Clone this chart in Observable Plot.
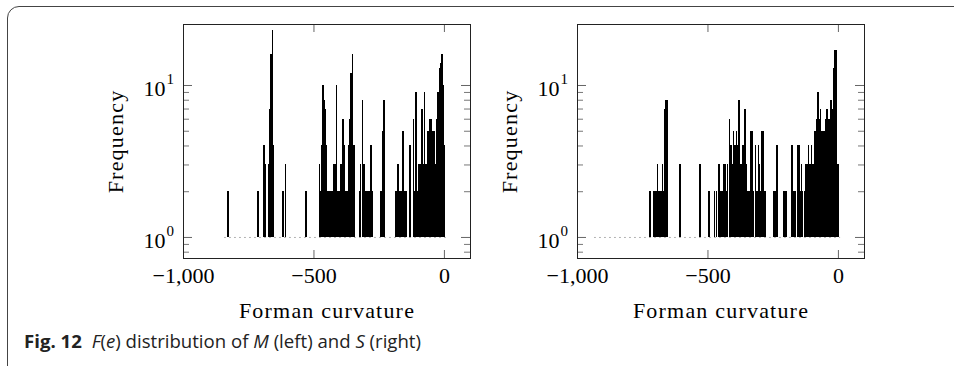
<!DOCTYPE html>
<html>
<head>
<meta charset="utf-8">
<script src="https://cdn.jsdelivr.net/npm/d3@7"></script>
<script src="https://cdn.jsdelivr.net/npm/@observablehq/plot@0.6"></script>
<style>
  html, body { margin: 0; padding: 0; background: #fff; }
  body { width: 954px; height: 366px; overflow: hidden; position: relative; }
  #left, #right { position: absolute; top: 0; }
  #left { left: 0; }
  #right { left: 477px; }
  #box { position: absolute; left: 7px; top: 6px; width: 1000px; height: 420px;
         border: 1.2px solid #444; border-radius: 12px; pointer-events: none; }
  #caption { position: absolute; left: 24px; top: 332px; font-family: "Open Sans", sans-serif;
             font-size: 18.6px; line-height: 18px; color: #222; white-space: nowrap; }
  #caption b { font-weight: 700; margin-right: 5px; }
</style>
</head>
<body>
<div id="left"></div>
<div id="right"></div>
<div id="box"></div>
<div id="caption"><b>Fig. 12</b> <i>F</i>(<i>e</i>) distribution of <i>M</i> (left) and <i>S</i> (right)</div>
<script>
// ---- data: histogram bins (Forman curvature value) and frequencies ----
const leftBins = [-828,-714,-710,-690,-686,-672,-668,-662,-657,-653,-617,-607,-528,
  -477,-473,-469,-464,-461,-458,-454,-452,-449,-442,-436,-431,-426,-421,-416,-411,-406,-401,-396,-390,-387,-383,-378,-373,-368,-363,-360,-356,-350,-345,
  -324,-319,-312,-306,-302,-297,-291,-286,-282,-279,-274,
  -242,-238,-234,-229,
  -184,-179,-176,-169,-164,-156,-151,-146,-130,
  -116,-112,-108,-103,-98,-93,-88,-83,-79,-75,-70,-65,-60,-55,-50,-46,-42,-37,-32,-27,-22,-16,-11,-8,-3,3];
const leftCounts = [2,2,2,4,3,3,7,16,23,4,2,3,2,
  3,2,4,10,9,8,7,4,2,2,2,2,2,3,3,10,2,2,3,3,6,4,2,2,2,4,6,12,16,4,
  2,3,8,3,2,2,2,2,3,4,2,
  2,2,5,8,
  2,2,3,2,2,5,2,2,4,
  6,2,9,2,3,3,3,7,3,9,3,3,5,6,6,2,5,5,3,6,9,13,14,16,10,4];

const rightBins = [-720,-705,-698,-692,-686,-679,-673,-669,-664,-658,-654,-606,-529,-495,-473,-466,-455,
  -450,-445,-442,-438,-432,-427,-423,-415,-410,-405,-400,-394,-389,-384,-380,-377,-371,-366,-361,-356,-351,-346,-341,-333,-328,-323,-316,-310,-305,-300,-295,-290,-285,-280,
  -244,-239,-234,
  -206,-198,-177,-171,-164,-155,-150,-145,-140,-135,-127,-122,-117,-112,-107,-102,-97,-92,-87,-81,-76,-71,-66,-61,-56,-51,-46,-41,-35,-31,-26,-20,-15,-11,-8,-5,0];
const rightCounts = [2,2,2,3,2,2,3,2,7,8,8,3,3,2,2,2,3,
  2,2,2,3,3,2,3,6,4,3,5,4,5,4,8,7,3,4,4,7,3,2,2,5,5,2,4,2,4,3,2,5,5,2,
  2,2,4,
  2,2,4,2,2,4,4,2,3,2,2,3,3,4,3,4,3,3,5,6,9,6,7,5,5,5,6,7,6,6,8,7,13,17,17,12,3];

// span of single-count bins (drawn as a faint baseline at frequency 1)
const leftOnes = [-843, 5];
const rightOnes = [-935, 5];

const xTicks = [-1000, -500, 0];
const xTickLabels = ["\u22121,000", "\u2212500", "0"];
const yMajor = [1, 10];
const yTickBase = ["10", "10"];
const yTickExp = ["0", "1"];
const yMinor = [0.8, 0.9, 2, 3, 4, 5, 6, 7, 8, 9];
const xLabel = "Forman curvature";
const yLabel = "Frequency";

// ---- drawing ----
const W = 477, H = 330, MT = 24, MB = 72, PW = 287, PH = H - MT - MB;
const BW = 6; // bar width in curvature units
const serif = "Liberation Serif, Times New Roman, serif";

function panel(bins, counts, ones, ml) {
  const data = bins.map((x, i) => ({x, n: counts[i]}));
  const base = ones.map(x => ({x, y: 1}));
  const svg = Plot.plot({
    width: W, height: H,
    marginLeft: ml, marginRight: W - ml - PW, marginTop: MT, marginBottom: MB,
    x: {domain: [-1000, 100], axis: null},
    y: {type: "log", domain: [0.727, 25.2], axis: null},
    style: {background: "transparent", fontFamily: serif, color: "#000", overflow: "visible"},
    marks: [
      Plot.line(base, {x: "x", y: "y", stroke: "#aaa", strokeWidth: 1, strokeDasharray: "1,4"}),
      Plot.rect(data, {x1: d => d.x - BW / 2, x2: d => d.x + BW / 2, y1: () => 1, y2: "n",
        fill: "#000", shapeRendering: "crispEdges"}),
      Plot.tickX(xTicks, {x: d => d, insetTop: PH - 8, stroke: "#666"}),
      Plot.tickX(xTicks, {x: d => d, insetBottom: PH - 8, stroke: "#666"}),
      Plot.tickY(yMajor, {y: d => d, insetRight: PW - 9, stroke: "#666"}),
      Plot.tickY(yMajor, {y: d => d, insetLeft: PW - 9, stroke: "#666"}),
      Plot.tickY(yMinor, {y: d => d, insetRight: PW - 6, stroke: "#777"}),
      Plot.tickY(yMinor, {y: d => d, insetLeft: PW - 6, stroke: "#777"}),
      Plot.frame({stroke: "#222", strokeWidth: 1}),
      Plot.text(xTicks, {x: d => d, text: (d, i) => xTickLabels[i], frameAnchor: "bottom", dy: 17,
        lineAnchor: "middle", fontSize: 22, fontFamily: serif}),
      Plot.text(yMajor, {y: d => d, text: (d, i) => yTickBase[i], frameAnchor: "left", textAnchor: "end",
        dx: -18, dy: 3, fontSize: 22, fontFamily: serif}),
      Plot.text(yMajor, {y: d => d, text: (d, i) => yTickExp[i], frameAnchor: "left", textAnchor: "start",
        dx: -17, dy: -6, fontSize: 15, fontFamily: serif}),
      Plot.text([xLabel], {text: d => d, frameAnchor: "bottom", dy: 52, lineAnchor: "middle",
        textAnchor: "middle", fontSize: 22, fontFamily: serif}),
      Plot.text([yLabel], {text: d => d, frameAnchor: "left", dx: -68, rotate: -90, lineAnchor: "middle",
        textAnchor: "middle", fontSize: 22, fontFamily: serif})
    ]
  });
  // widen the axis titles slightly to approximate Computer Modern metrics
  d3.select(svg).selectAll("text").filter(function() {
    const t = this.textContent; return t === xLabel || t === yLabel;
  }).attr("letter-spacing", "1.2px");
  return svg;
}

document.getElementById("left").append(panel(leftBins, leftCounts, leftOnes, 183));
document.getElementById("right").append(panel(rightBins, rightCounts, rightOnes, 100));
</script>
</body>
</html>
